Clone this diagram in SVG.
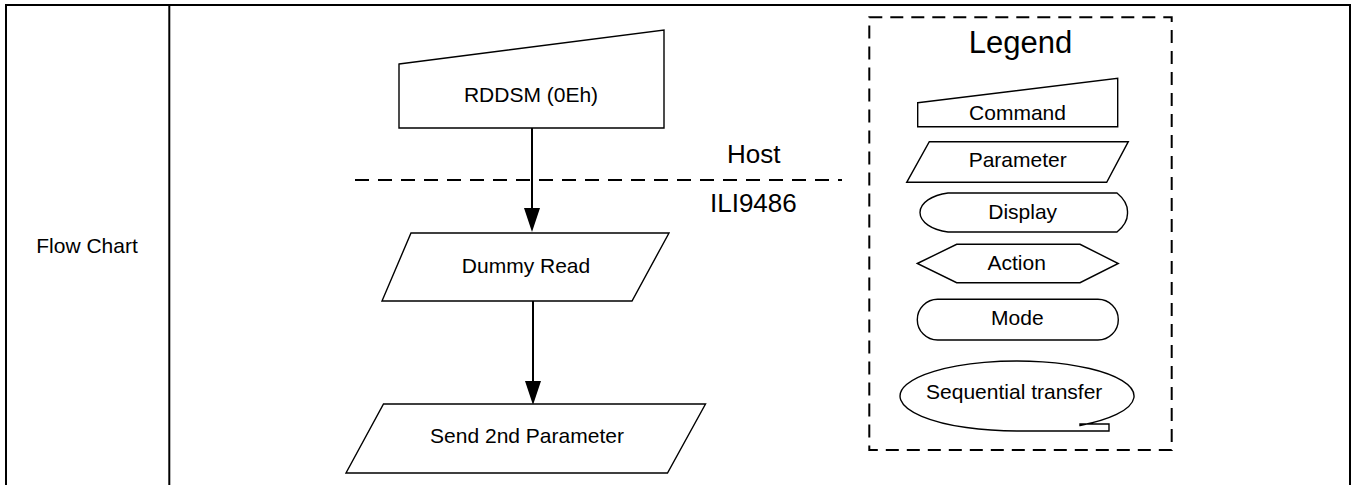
<svg xmlns="http://www.w3.org/2000/svg" width="1358" height="485" viewBox="0 0 1358 485">
<style>
text{font-family:"Liberation Sans",Arial,sans-serif;fill:#000}
.lbl{font-size:21px;text-anchor:middle}
.shp{fill:#fff;stroke:#000;stroke-width:1.4}
.tbl{fill:none;stroke:#000;stroke-width:2}
.con{fill:none;stroke:#000;stroke-width:2}
.dash{fill:none;stroke:#000;stroke-width:2;stroke-dasharray:14 9}
</style>
<defs>
<marker id="arr" markerUnits="userSpaceOnUse" markerWidth="24" markerHeight="16" refX="0" refY="8" orient="auto" viewBox="0 0 24 16">
<path d="M0,0 L24,8 L0,16 Z" fill="#000"/>
</marker>
</defs>
<rect width="1358" height="485" fill="#fff"/>
<g id="table">
<path class="tbl" d="M6,485 V5 H1350 V485 M169.3,5 V485"/>
<text class="lbl" x="87" y="253">Flow Chart</text>
</g>
<g id="divider">
<line class="dash" x1="355" y1="180" x2="842" y2="180"/>
<text x="727" y="163" font-size="26">Host</text>
<text x="710" y="212" font-size="26">ILI9486</text>
</g>
<g id="connectors">
<path class="con" d="M532,128 V208" marker-end="url(#arr)"/>
<path class="con" d="M533,301 V381" marker-end="url(#arr)"/>
</g>
<g id="rddsm">
<polygon class="shp" points="399,64 664,30 664,128 399,128"/>
<text class="lbl" x="531" y="102">RDDSM (0Eh)</text>
</g>
<g id="dummy-read">
<polygon class="shp" points="411,233 669,233 632,301 382,301"/>
<text class="lbl" x="526" y="273">Dummy Read</text>
</g>
<g id="send-2nd">
<polygon class="shp" points="383.5,404 705.5,404 667.5,473 346,473"/>
<text class="lbl" x="527" y="443">Send 2nd Parameter</text>
</g>
<g id="legend">
<rect x="869.3" y="17.3" width="302.4" height="432.7" fill="none" stroke="#000" stroke-width="2" stroke-dasharray="13 8"/>
<text x="1020.5" y="53" font-size="31" text-anchor="middle">Legend</text>
</g>
<g id="legend-command">
<polygon class="shp" points="917.7,102.7 1117.7,78.3 1117.7,126.7 917.7,126.7"/>
<text class="lbl" x="1017.5" y="120">Command</text>
</g>
<g id="legend-parameter">
<polygon class="shp" points="929.3,141.7 1128.3,141.7 1106.7,182.3 906.7,182.3"/>
<text class="lbl" x="1017.7" y="167">Parameter</text>
</g>
<g id="legend-display">
<path class="shp" d="M948,193 H1117 Q1128,202 1127.5,212.5 Q1128,223 1117,232 H948 C932,230 920,222 920,212.5 C920,203 932,195 948,193 Z"/>
<text class="lbl" x="1022.7" y="218.5">Display</text>
</g>
<g id="legend-action">
<polygon class="shp" points="917.3,263.5 956.7,244.3 1080,244.3 1118.3,263.5 1080,282.7 956.7,282.7"/>
<text class="lbl" x="1016.7" y="269.5">Action</text>
</g>
<g id="legend-mode">
<rect class="shp" x="917.3" y="299.3" width="201" height="40.7" rx="20.35" ry="20.35"/>
<text class="lbl" x="1017.3" y="325">Mode</text>
</g>
<g id="legend-sequential">
<path class="shp" d="M1080,425.5 A117 35 0 1 0 1017,431 L1109,431 L1109,424 L1080,424 Z"/>
<text class="lbl" x="1014.2" y="398.5">Sequential transfer</text>
</g>
</svg>
